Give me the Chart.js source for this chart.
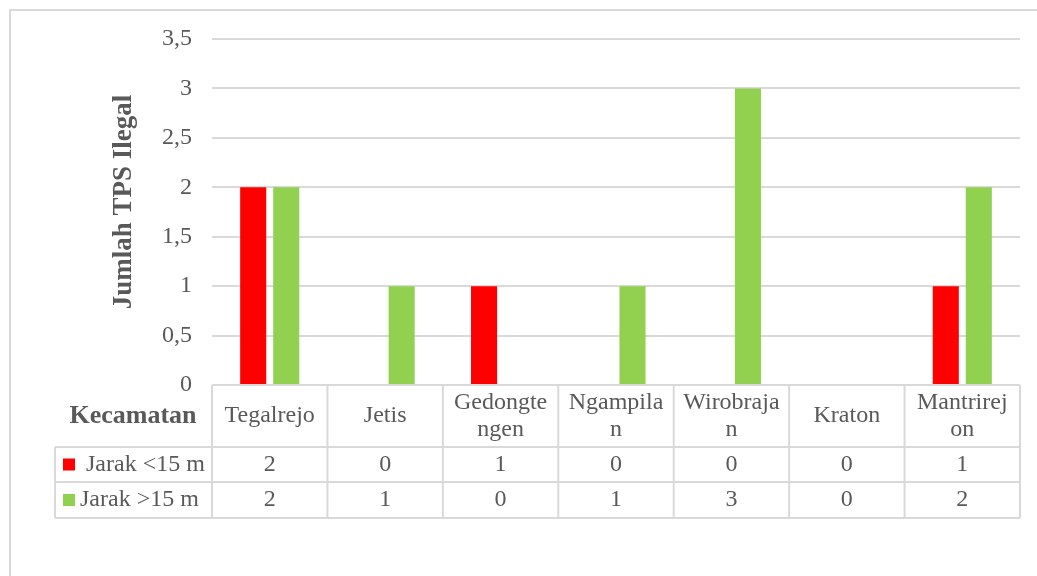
<!DOCTYPE html>
<html>
<head>
<meta charset="utf-8">
<script src="https://cdn.jsdelivr.net/npm/chart.js@4/dist/chart.umd.min.js"></script>
<style>
  html, body { margin: 0; padding: 0; background: #fff; }
  canvas { display: block; }
</style>
</head>
<body>
<canvas id="tpsChart" width="1037" height="576"></canvas>
<script>
'use strict';

// kecamatan names, split the way they wrap inside the table header
const kecamatan = [
    ['Tegalrejo'],
    ['Jetis'],
    ['Gedongte', 'ngen'],
    ['Ngampila', 'n'],
    ['Wirobraja', 'n'],
    ['Kraton'],
    ['Mantrirej', 'on']
];
const jarakDekat = [2, 0, 1, 0, 0, 0, 1];   // Jarak <15 m
const jarakJauh = [2, 1, 0, 1, 3, 0, 2];    // Jarak >15 m
const yTickLabels = ['0', '0,5', '1', '1,5', '2', '2,5', '3', '3,5'];

const FONT = "'Liberation Serif', 'Times New Roman', serif";
const TEXT = '#595959';
const LINE = '#d9d9d9';

// draws the chart frame, the data table under the bars and the y title
const dataTablePlugin = {
    id: 'dataTable',
    afterDraw(chart) {
        const ctx = chart.ctx;
        const xs = chart.scales.x;
        const area = chart.chartArea;
        const n = chart.data.labels.length;
        const colW = (area.right - area.left) / n;

        const headTop = area.bottom;
        const row1Top = 447;
        const row2Top = 482;
        const tableBottom = 518;
        const tableLeft = 55;

        ctx.save();

        // outer frame
        ctx.strokeStyle = LINE;
        ctx.lineWidth = 2;
        ctx.strokeRect(10, 10, 1100, 700);

        // table grid
        ctx.lineWidth = 2;
        ctx.beginPath();
        ctx.moveTo(tableLeft, row1Top); ctx.lineTo(area.right, row1Top);
        ctx.moveTo(tableLeft, row2Top); ctx.lineTo(area.right, row2Top);
        ctx.moveTo(tableLeft, tableBottom); ctx.lineTo(area.right, tableBottom);
        ctx.moveTo(tableLeft, row1Top); ctx.lineTo(tableLeft, tableBottom);
        for (let i = 0; i <= n; i++) {
            const x = i < n ? xs.getPixelForValue(i) - colW / 2 : area.right;
            ctx.moveTo(x, headTop); ctx.lineTo(x, tableBottom);
        }
        ctx.stroke();

        ctx.fillStyle = TEXT;
        ctx.textAlign = 'center';
        ctx.textBaseline = 'middle';
        ctx.font = '24px ' + FONT;

        // header: kecamatan names
        const headMid = (headTop + row1Top) / 2;
        chart.data.labels.forEach((lines, i) => {
            const cx = xs.getPixelForValue(i);
            const lh = 27;
            const y0 = headMid - (lines.length - 1) * lh / 2;
            lines.forEach((t, j) => ctx.fillText(t, cx, y0 + j * lh));
        });

        // rows: series values with legend keys
        const rowMids = [(row1Top + row2Top) / 2, (row2Top + tableBottom) / 2];
        chart.data.datasets.forEach((ds, d) => {
            const ym = rowMids[d];
            ds.data.forEach((v, i) => {
                ctx.fillText(String(v), xs.getPixelForValue(i), ym);
            });
            ctx.fillStyle = ds.backgroundColor;
            ctx.fillRect(63, ym - 6, 12, 12);
            ctx.fillStyle = TEXT;
            ctx.textAlign = 'left';
            ctx.fillText(ds.label, 80, ym);
            ctx.textAlign = 'center';
        });

        ctx.font = 'bold 26px ' + FONT;
        ctx.fillText('Kecamatan', 133, headMid);

        // y axis title
        ctx.font = 'bold 27px ' + FONT;
        ctx.translate(124, 202);
        ctx.rotate(-Math.PI / 2);
        ctx.fillText('Jumlah TPS Ilegal', 0, 0);

        ctx.restore();
    }
};

const chart = new Chart(document.getElementById('tpsChart'), {
    type: 'bar',
    data: {
        labels: kecamatan,
        datasets: [
            {
                label: ' Jarak <15 m',
                data: jarakDekat,
                backgroundColor: '#ff0000'
            },
            {
                label: 'Jarak >15 m',
                data: jarakJauh,
                backgroundColor: '#92d050'
            }
        ]
    },
    options: {
        responsive: false,
        animation: false,
        categoryPercentage: 0.572,
        barPercentage: 0.79,
        layout: {
            padding: { top: 39, right: 17, bottom: 191, left: 0 }
        },
        plugins: {
            legend: { display: false },
            tooltip: { enabled: false }
        },
        scales: {
            x: {
                display: false
            },
            y: {
                min: 0,
                max: 3.5,
                border: { display: false },
                grid: {
                    color: LINE,
                    lineWidth: 2,
                    drawTicks: false
                },
                ticks: {
                    stepSize: 0.5,
                    padding: 20,
                    color: TEXT,
                    font: { family: FONT, size: 24 },
                    callback: (v, i) => yTickLabels[i]
                },
                afterFit(scale) {
                    scale.width = 212;
                }
            }
        }
    },
    plugins: [dataTablePlugin]
});
</script>
</body>
</html>
